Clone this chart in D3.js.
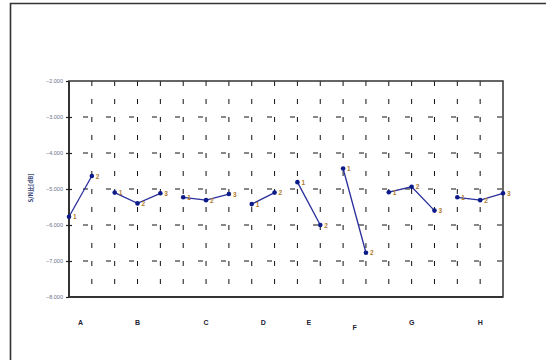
<!DOCTYPE html>
<html>
<head>
<meta charset="utf-8">
<script src="https://cdn.jsdelivr.net/npm/d3@7"></script>
<style>
  body { margin: 0; background: #fff; }
  svg { display: block; font-family: "Liberation Sans", Arial, sans-serif; }
</style>
</head>
<body>
<svg id="chart" width="546" height="360"></svg>
<script>
// factors and their levels
const categories = ["A", "B", "C", "D", "E", "F", "G", "H"];
const levelLabels = [["1", "2"], ["1", "2", "3"], ["1", "2", "3"], ["1", "2"], ["1", "2"], ["1", "2"], ["1", "2", "3"], ["1", "2", "3"]];
// S/N ratio per level [dB]
const snA = [-5.77, -4.64];
const snB = [-5.10, -5.40, -5.12];
const snC = [-5.23, -5.31, -5.14];
const snD = [-5.42, -5.10];
const snE = [-4.81, -6.00];
const snF = [-4.43, -6.77];
const snG = [-5.09, -4.94, -5.60];
const snH = [-5.23, -5.31, -5.12];
const series = [snA, snB, snC, snD, snE, snF, snG, snH];
const yTicks = [-2, -3, -4, -5, -6, -7, -8];
const yTitle = "S/N比[dB]";

var plot = {left: 69, right: 503, top: 81, bottom: 297};
var svg = d3.select("#chart");

// sequential index of every point across all factors
var groups = [], idx = 0;
series.forEach(function(vals, g) {
  var pts = vals.map(function(v, i) { return {i: idx + i, v: v, lab: levelLabels[g][i]}; });
  groups.push({name: categories[g], pts: pts});
  idx += vals.length;
});
var nPts = idx;

var x = d3.scaleLinear().domain([0, nPts - 1]).range([plot.left, plot.right]);
var y = d3.scaleLinear().domain([-2, -8]).range([plot.top, plot.bottom]);

// outer frame (runs off the right and bottom)
svg.append("path")
  .attr("d", "M10.5,370 L10.5,3.5 L560,3.5")
  .attr("fill", "none").attr("stroke", "#333").attr("stroke-width", 1.6);

// dashed grid
svg.append("g").selectAll("line")
  .data(d3.range(1, nPts - 1))
  .enter().append("line")
  .attr("x1", d => x(d)).attr("x2", d => x(d))
  .attr("y1", plot.top).attr("y2", plot.bottom)
  .attr("stroke", "#111").attr("stroke-width", 1)
  .attr("stroke-dasharray", "5,13");

svg.append("g").selectAll("line")
  .data(yTicks.slice(1, -1))
  .enter().append("line")
  .attr("x1", plot.left).attr("x2", plot.right)
  .attr("y1", d => y(d)).attr("y2", d => y(d))
  .attr("stroke", "#111").attr("stroke-width", 1)
  .attr("stroke-dasharray", "5,18")
  .attr("stroke-dashoffset", -14);

// plot box
svg.append("rect")
  .attr("x", plot.left).attr("y", plot.top)
  .attr("width", plot.right - plot.left).attr("height", plot.bottom - plot.top)
  .attr("fill", "none").attr("stroke", "#333").attr("stroke-width", 1.5);
svg.append("path")
  .attr("d", "M" + plot.left + "," + plot.top + " L" + plot.left + "," + plot.bottom + " L" + plot.right + "," + plot.bottom)
  .attr("fill", "none").attr("stroke", "#333").attr("stroke-width", 2);

// y axis, ticks crossing the axis line
var yAxis = d3.axisLeft(y).tickValues(yTicks).tickSize(3).tickPadding(3)
  .tickFormat(d3.format(".3f"));
var ya = svg.append("g")
  .attr("transform", "translate(" + plot.left + ",0)")
  .call(yAxis);
ya.select(".domain").remove();
ya.selectAll("line").attr("stroke", "#222").attr("stroke-width", 1.2);
ya.selectAll("text").attr("font-size", 5.5).attr("fill", "#6b7388");

var yb = svg.append("g")
  .attr("transform", "translate(" + plot.left + ",0)")
  .call(d3.axisLeft(y).tickValues(yTicks.slice(1, -1)).tickSize(-3).tickFormat(""));
yb.select(".domain").remove();
yb.selectAll("line").attr("stroke", "#222").attr("stroke-width", 1.2);

svg.append("text")
  .attr("transform", "translate(33,188) rotate(-90)")
  .attr("text-anchor", "middle")
  .attr("font-size", 6).attr("font-weight", "bold").attr("fill", "#3a4a7a")
  .style("font-family", "'Noto Sans CJK JP', sans-serif")
  .text(yTitle);

// lines and markers
var line = d3.line().x(d => x(d.i)).y(d => y(d.v));
var g = svg.append("g").selectAll("g").data(groups).enter().append("g");

g.append("path")
  .attr("d", d => line(d.pts))
  .attr("fill", "none").attr("stroke", "#2a2f9a").attr("stroke-width", 1.3);

g.selectAll("circle").data(d => d.pts).enter().append("circle")
  .attr("cx", d => x(d.i)).attr("cy", d => y(d.v)).attr("r", 2.3)
  .attr("fill", "#0d1a8a");

g.selectAll("text.lv").data(d => d.pts).enter().append("text")
  .attr("class", "lv")
  .attr("x", d => x(d.i) + 4).attr("y", d => y(d.v) + 2.5)
  .attr("font-size", 6.5).attr("font-weight", "bold").attr("fill", "#b07a2a")
  .text(d => d.lab);

// factor labels under each group
g.append("text")
  .attr("x", d => x((d.pts[0].i + d.pts[d.pts.length - 1].i) / 2))
  .attr("y", (d, i) => categories[i] === "F" ? 330 : 325)
  .attr("text-anchor", "middle")
  .attr("font-size", 7).attr("font-weight", "bold").attr("fill", "#223")
  .text(d => d.name);
</script>
</body>
</html>
